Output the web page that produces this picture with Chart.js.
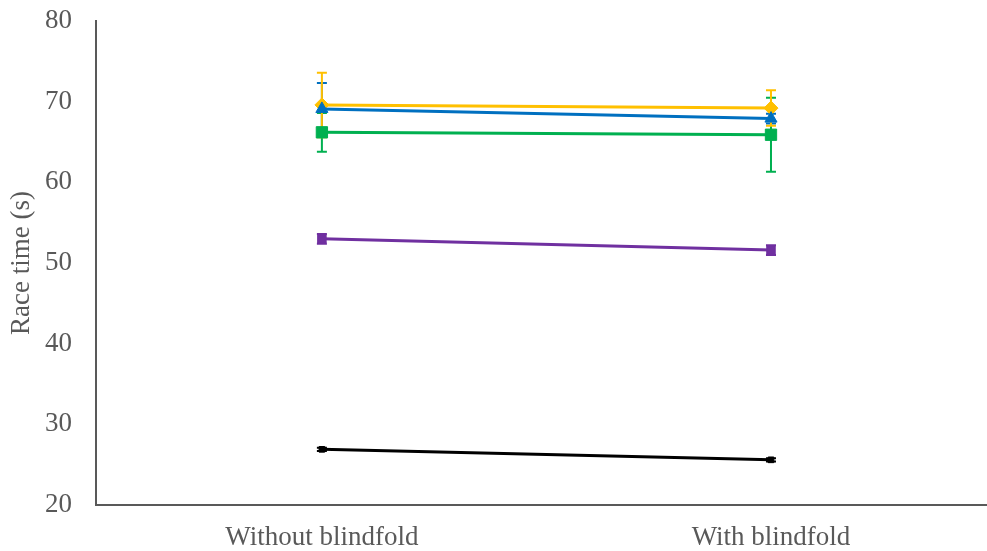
<!DOCTYPE html>
<html>
<head>
<meta charset="utf-8">
<script src="https://cdn.jsdelivr.net/npm/chart.js@4/dist/chart.umd.min.js"></script>
<style>
  html, body { margin: 0; padding: 0; background: #ffffff; }
  #wrap { width: 987px; height: 551px; position: relative; }
</style>
</head>
<body>
<div id="wrap"><canvas id="c" width="987" height="551"></canvas></div>
<script>
// Conditions on the x axis
const categories = ['Without blindfold', 'With blindfold'];

// Mean race times (s) per group
const yellowMean = [69.6, 69.2];
const blueMean   = [69.1, 67.9];
const greenMean  = [66.2, 65.9];
const purpleMean = [53.0, 51.6];
const blackMean  = [26.9, 25.6];

// Error bar half-widths (s)
const yellowErr = [4.0, 2.2];
const blueErr   = [3.2, 0.6];
const greenErr  = [2.4, 4.6];
const purpleErr = [0.6, 0.6];
const blackErr  = [0.2, 0.2];

// Value axis ticks
const yTicks = [20, 30, 40, 50, 60, 70, 80];

function series(means, err, color, style, radius) {
  return {
    data: means.map((v, i) => ({ x: i, y: v })),
    errors: err,
    borderColor: color,
    backgroundColor: color,
    pointBackgroundColor: color,
    pointBorderColor: color,
    pointStyle: style,
    pointRadius: radius,
    pointBorderWidth: 1,
    borderWidth: 3,
    tension: 0,
    fill: false
  };
}

// Draws vertical error bars with caps underneath the lines and markers
const errorBars = {
  id: 'errorBars',
  beforeDatasetsDraw(chart) {
    const ctx = chart.ctx;
    const y = chart.scales.y;
    chart.data.datasets.forEach((ds, i) => {
      const meta = chart.getDatasetMeta(i);
      meta.data.forEach((pt, j) => {
        const e = ds.errors[j];
        if (!e) return;
        const v = ds.data[j].y;
        const top = y.getPixelForValue(v + e);
        const bot = y.getPixelForValue(v - e);
        ctx.save();
        ctx.strokeStyle = ds.borderColor;
        ctx.lineWidth = 2;
        ctx.beginPath();
        ctx.moveTo(pt.x, top); ctx.lineTo(pt.x, bot);
        ctx.moveTo(pt.x - 5, top); ctx.lineTo(pt.x + 5, top);
        ctx.moveTo(pt.x - 5, bot); ctx.lineTo(pt.x + 5, bot);
        ctx.stroke();
        ctx.restore();
      });
    });
  }
};

const tickFont = { family: 'Liberation Serif', size: 27 };

new Chart(document.getElementById('c'), {
  type: 'line',
  data: {
    datasets: [
      series(blackMean,  blackErr,  '#000000', 'rect', 4),
      series(purpleMean, purpleErr, '#7030A0', 'rect', 6),
      series(greenMean,  greenErr,  '#00B050', 'rect', 8),
      series(blueMean,   blueErr,   '#0070C0', 'triangle', 7),
      series(yellowMean, yellowErr, '#FFC000', 'rectRot', 7)
    ]
  },
  options: {
    responsive: false,
    animation: false,
    devicePixelRatio: 1,
    layout: { autoPadding: false, padding: { top: 21, right: 0, left: 6, bottom: 0 } },
    plugins: {
      legend: { display: false },
      tooltip: { enabled: false }
    },
    scales: {
      x: {
        type: 'linear',
        min: -0.503,
        max: 1.481,
        afterBuildTicks(scale) { scale.ticks = categories.map((c, i) => ({ value: i })); },
        afterFit(scale) { scale.height = 46; scale.paddingTop = 0; scale.paddingBottom = 0; },
        grid: { display: false, drawTicks: false },
        border: { color: '#595959', width: 2 },
        ticks: {
          color: '#595959', font: tickFont, padding: 17,
          maxRotation: 0,
          callback: (v) => categories[v]
        }
      },
      y: {
        min: 20,
        max: 80,
        afterBuildTicks(scale) { scale.ticks = yTicks.map(v => ({ value: v })); },
        afterFit(scale) { scale.width = 90; scale.paddingTop = 0; scale.paddingBottom = 0; },
        grid: { display: false, drawTicks: false },
        border: { color: '#595959', width: 2 },
        ticks: { color: '#595959', font: tickFont, padding: 24 },
        title: {
          display: true,
          text: 'Race time (s)',
          color: '#595959',
          font: tickFont,
          padding: { top: 0, bottom: 0 }
        }
      }
    }
  },
  plugins: [errorBars]
});
</script>
</body>
</html>
